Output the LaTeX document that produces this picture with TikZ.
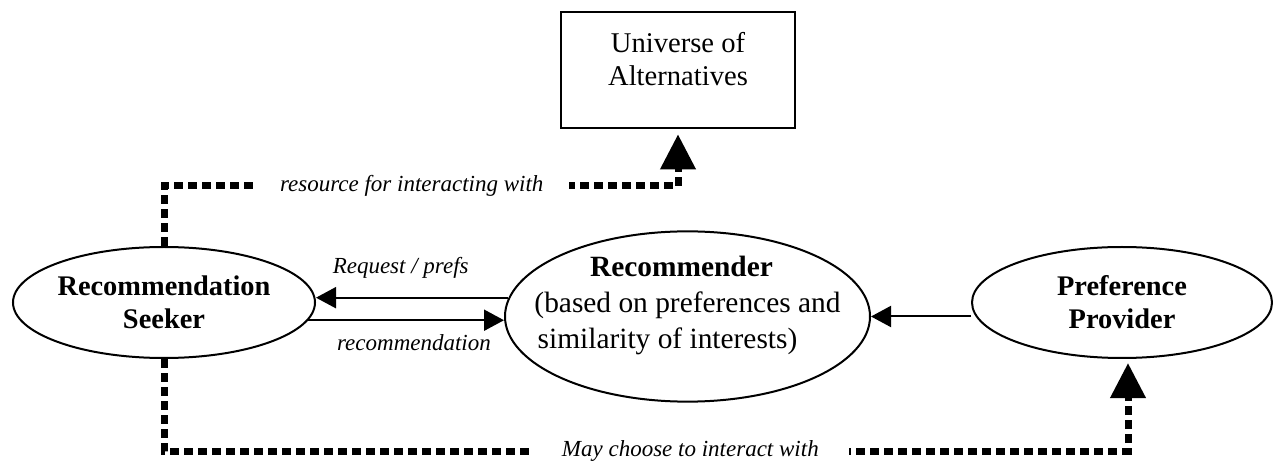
\documentclass[tikz,border=0pt]{standalone}
\usepackage{fontspec}
\setmainfont{Liberation Serif}
\usepackage{tikz}
\usetikzlibrary{positioning,arrows.meta,shapes.geometric,calc}
\tikzset{
  actor/.style={ellipse, draw, line width=1pt, align=center,
                inner xsep=-20pt, inner ysep=0pt,
                font=\fontsize{14.2}{16.5}\selectfont\bfseries},
  hub/.style={ellipse, draw, line width=1pt, align=center,
              inner xsep=-20pt, inner ysep=0pt, text depth=14pt,
              font=\fontsize{14.7}{18}\selectfont},
  resbox/.style={rectangle, draw, line width=1.3pt, align=center,
                 text depth=11pt, font=\fontsize{14.3}{16.5}\selectfont},
  ar/.style={-{Triangle[length=10pt,width=10.5pt]}, line width=1pt},
  dotar/.style={-{Triangle[length=17.5pt,width=17pt]}, line width=3.5pt,
                dash pattern=on 4.5pt off 2.5pt},
  lbl/.style={font=\fontsize{11.5}{13}\selectfont\itshape, inner sep=0pt},
  gaplbl/.style={lbl, fill=white, inner xsep=12.7pt, inner ysep=3pt},
}
\begin{document}
\begin{tikzpicture}[x=0.5pt, y=-0.5pt]
  \useasboundingbox (0,0) rectangle (1273,464);

  \node[resbox, minimum width=117pt, minimum height=58pt] (univ) at (678,70) {Universe of\\Alternatives};
  \node[actor, minimum width=151pt, minimum height=55.5pt] (seek) at (164,302.5) {Recommendation\\Seeker};
  \node[hub, minimum width=182.5pt, minimum height=83.5pt] (rec) at (687.5,316.5)
    {\textbf{Recommender}\hspace*{6pt}\\(based on preferences and\hspace*{6pt}\\similarity of interests)\hspace*{20pt}};
  \node[actor, minimum width=150pt, minimum height=55.5pt] (prov) at (1122,302.5) {Preference\\Provider};

  \draw[ar] (rec.174) -- node[lbl, above=9pt, pos=0.56] {Request / prefs} (rec.174 -| seek.east);
  \draw[ar] (seek.-7) -- node[lbl, below=6.7pt, pos=0.54] {recommendation} (seek.-7 -| rec.west);
  \draw[ar] (rec.east -| prov.west) -- (rec.east);

  \draw[dotar, shorten >=2.5pt] (seek.north) -- ++(0,-60)
    -| node[gaplbl, pos=0.241] {resource for interacting with} (univ.south);
  \draw[dotar, shorten >=2pt] (seek.south) -- ++(0,92)
    -| node[gaplbl, pos=0.273, inner xsep=15pt] {May choose to interact with} ([xshift=3pt]prov.south);
\end{tikzpicture}
\end{document}
